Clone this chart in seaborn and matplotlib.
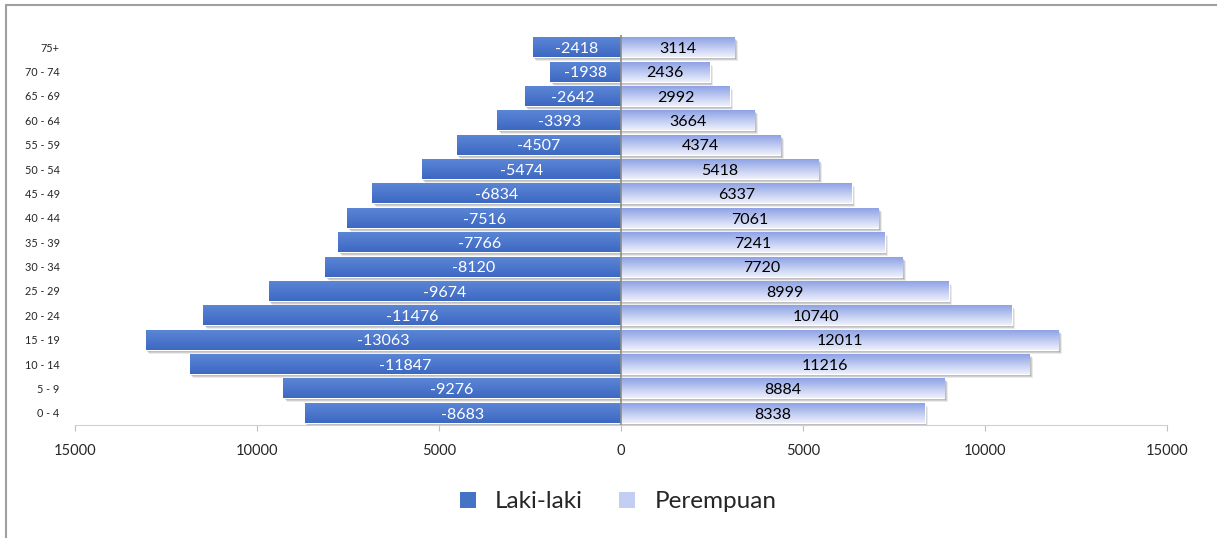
import numpy as np
import pandas as pd
import seaborn as sns
import matplotlib.pyplot as plt
import matplotlib.transforms as mtransforms
from matplotlib.colors import LinearSegmentedColormap
from matplotlib.patches import Rectangle
from matplotlib.lines import Line2D

# Age groups, bottom to top
age_groups = ['0 - 4', '5 - 9', '10 - 14', '15 - 19', '20 - 24', '25 - 29', '30 - 34',
              '35 - 39', '40 - 44', '45 - 49', '50 - 54', '55 - 59', '60 - 64',
              '65 - 69', '70 - 74', '75+']
laki = [-8683, -9276, -11847, -13063, -11476, -9674, -8120, -7766, -7516,
        -6834, -5474, -4507, -3393, -2642, -1938, -2418]
perempuan = [8338, 8884, 11216, 12011, 10740, 8999, 7720, 7241, 7061,
             6337, 5418, 4374, 3664, 2992, 2436, 3114]
x_ticks = [-15000, -10000, -5000, 0, 5000, 10000, 15000]
x_tick_labels = ['15000', '10000', '5000', '0', '5000', '10000', '15000']

df = pd.DataFrame({'age': age_groups, 'Laki-laki': laki, 'Perempuan': perempuan})
order = age_groups[::-1]  # seaborn puts the first category at the top

sns.set_theme(style='white')
plt.rcParams['font.family'] = ['Lato', 'DejaVu Sans']

fig = plt.figure(figsize=(12.17, 5.38), dpi=100)
ax = fig.add_axes([75 / 1217, 1 - 425 / 538, (1167 - 75) / 1217, (425 - 35) / 538])

male_col = '#4472c4'
female_col = '#a9b8ec'
sns.barplot(data=df, x='Laki-laki', y='age', order=order, orient='h',
            color=male_col, width=0.82, saturation=1, ax=ax)
n_male = len(ax.patches)
sns.barplot(data=df, x='Perempuan', y='age', order=order, orient='h',
            color=female_col, width=0.82, saturation=1, ax=ax)
patches = list(ax.patches)

# gradients and soft drop shadows like the Excel style
male_cmap = LinearSegmentedColormap.from_list('m', ['#5b86d6', '#3d68c2'])
female_cmap = LinearSegmentedColormap.from_list('f', ['#8ea2e6', '#eef1fb'])
grad = np.linspace(0, 1, 64)[:, None]
for i, p in enumerate(patches):
    x0, y0 = p.get_x(), p.get_y()
    w, h = p.get_width(), p.get_height()
    for dx, dy, a in [(1.5, -2, 0.35), (2.5, -3, 0.25), (3.5, -4, 0.15)]:
        tr = mtransforms.ScaledTranslation(dx / 100, dy / 100, fig.dpi_scale_trans)
        sh = Rectangle((x0, y0), w, h, transform=ax.transData + tr,
                       facecolor='#7a7a7a', edgecolor='none', alpha=a, zorder=1)
        ax.add_patch(sh)
    cmap = male_cmap if i < n_male else female_cmap
    im = ax.imshow(grad, cmap=cmap, aspect='auto', origin='upper',
                   extent=(min(x0, x0 + w), max(x0, x0 + w), y0 + h, y0),
                   zorder=2, interpolation='bilinear')
    im.set_clip_path(p)
    p.set_zorder(2)

# value labels
for i, age in enumerate(order):
    m = df.loc[df['age'] == age, 'Laki-laki'].iloc[0]
    f = df.loc[df['age'] == age, 'Perempuan'].iloc[0]
    ax.text(m / 2, i + 0.07, f'{m}', ha='center', va='center', color='white', fontsize=11.5, zorder=5)
    ax.text(f / 2, i + 0.07, f'{f}', ha='center', va='center', color='black', fontsize=11.5, zorder=5)

ax.axvline(0, color='#8c8c8c', lw=1.2, zorder=3)
ax.set_xlim(-15000, 15000)
ax.set_ylim(15.5, -0.5)
ax.set_xticks(x_ticks)
ax.set_xticklabels(x_tick_labels, fontsize=10.5)
ax.set_xlabel('')
ax.set_ylabel('')
ax.tick_params(axis='y', length=0, pad=11, labelsize=7.8)
ax.tick_params(axis='x', length=4, width=0.8, color='#bfbfbf', pad=10, bottom=True)
for s in ['top', 'right', 'left']:
    ax.spines[s].set_visible(False)
ax.spines['bottom'].set_color('#d0d0d0')
ax.spines['bottom'].set_linewidth(0.8)

# legend
handles = [Rectangle((0, 0), 1, 1, facecolor=male_col, edgecolor='none'),
           Rectangle((0, 0), 1, 1, facecolor='#c3cef3', edgecolor='none')]
fig.legend(handles, ['Laki-laki', 'Perempuan'], loc='center', bbox_to_anchor=(0.508, 1 - 502 / 538),
           ncol=2, frameon=False, fontsize=17.5, handlelength=0.65, handleheight=0.65,
           handletextpad=0.8, columnspacing=1.5)

# chart area border (top and left visible)
fig.add_artist(Line2D([6 / 1217, 6 / 1217], [0, 1 - 5 / 538], color='#a0a0a0', lw=1.5))
fig.add_artist(Line2D([6 / 1217, 1], [1 - 5 / 538, 1 - 5 / 538], color='#a0a0a0', lw=1.5))

fig.savefig('out.png', dpi=100)
